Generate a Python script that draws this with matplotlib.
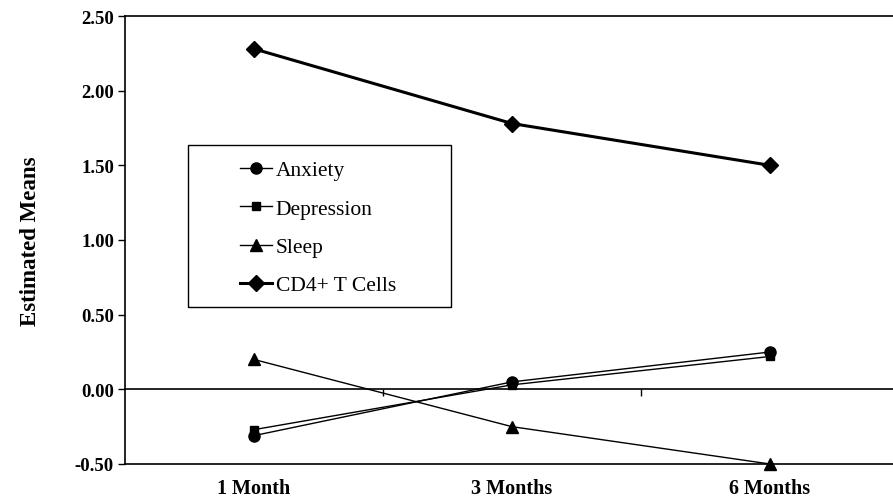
import matplotlib
matplotlib.use("Agg")
import matplotlib.pyplot as plt
from matplotlib.patches import Rectangle

plt.rcParams["font.family"] = ["Liberation Serif", "DejaVu Serif"]

# values
time_points = ["1 Month", "3 Months", "6 Months"]
anxiety = [-0.31, 0.05, 0.25]
depression = [-0.27, 0.03, 0.22]
sleep = [0.20, -0.25, -0.50]
cd4 = [2.28, 1.78, 1.50]

series = [
    ("Anxiety", anxiety, "o", 8, 1.0),
    ("Depression", depression, "s", 6, 1.0),
    ("Sleep", sleep, "^", 8.5, 1.0),
    ("CD4+ T Cells", cd4, "D", 8, 2.2),
]

fig = plt.figure(figsize=(8.93, 5.02), dpi=100)
ax = fig.add_axes([125 / 893, 1 - 465 / 502, 1 - 125 / 893, 448 / 502])

x = list(range(len(time_points)))
for name, vals, mk, ms, lw in series:
    ax.plot(x, vals, color="black", marker=mk, markersize=ms, linewidth=lw,
            label=name, clip_on=False, zorder=3)

ax.set_ylim(-0.5, 2.5)
ax.set_xlim(-0.5, -0.5 + 768 / 258)
ax.set_yticks([-0.5, 0, 0.5, 1.0, 1.5, 2.0, 2.5])
ax.set_yticklabels([f"{v:.2f}" for v in ax.get_yticks()], fontsize=13.5, fontweight="bold")
ax.tick_params(axis="y", direction="out", length=5, width=1, pad=3)

ax.set_xticks(x)
ax.set_xticklabels(time_points, fontsize=14.5, fontweight="bold")
ax.tick_params(axis="x", length=0, pad=10)

ax.spines["right"].set_visible(False)
for s in ("left", "top", "bottom"):
    ax.spines[s].set_linewidth(1.2)

# zero line with category separator ticks
zero = ax.secondary_xaxis(1 / 6)
zero.set_xticks([0.5, 1.5])
zero.set_xticklabels([])
zero.tick_params(axis="x", direction="out", length=5, width=1)
zero.spines["bottom"].set_linewidth(1.2)

ax.set_ylabel("Estimated Means", fontsize=16.5, fontweight="bold", labelpad=24)

leg = ax.legend(loc="upper left", bbox_to_anchor=(0.15, 0.678), frameon=False,
                fontsize=15.5, handlelength=1.5, handletextpad=0.15,
                labelspacing=0.85, borderpad=0, borderaxespad=0)
ax.add_patch(Rectangle((63 / 768, 157 / 448), 263 / 768, 162 / 448,
                       transform=ax.transAxes, fill=False, edgecolor="black",
                       linewidth=1.0, zorder=4))

fig.savefig("out.png", dpi=100)
